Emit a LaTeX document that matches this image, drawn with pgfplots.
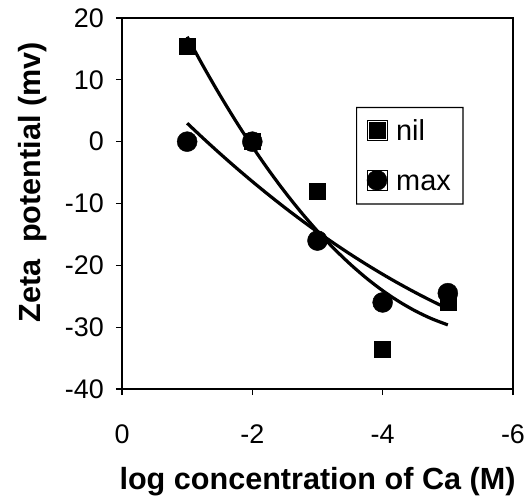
\documentclass[border=0pt]{standalone}
\usepackage{fontspec}
\setmainfont{Liberation Sans}
\usepackage{pgfplots}
\pgfplotsset{compat=1.18}
\begin{document}
\begin{tikzpicture}
\path[use as bounding box] (-122bp,-108bp) rectangle (407bp,389bp);
\begin{axis}[
  at={(0,0)}, anchor=south west,
  scale only axis, width=391bp, height=371bp,
  clip=false,
  x dir=reverse,
  xmin=-6, xmax=0, ymin=-40, ymax=20,
  xtick={0,-2,-4,-6}, ytick={-40,-30,-20,-10,0,10,20},
  xtick pos=bottom, ytick pos=left,
  tick align=outside,
  major tick length=6bp,
  axis line style={line width=1.3bp, black},
  every tick/.style={black, line width=1.2bp},
  /pgf/number format/assume math mode=true,
  tick label style={font=\fontsize{27}{27}\selectfont},
  xticklabel style={inner sep=0pt, anchor=north, yshift=-30bp},
  yticklabel style={inner sep=0pt, anchor=east, xshift=-12bp},
  xlabel={log concentration of Ca (M)},
  ylabel={Zeta\ \ potential (mv)},
  label style={font=\bfseries\fontsize{30.7}{31}\selectfont},
  xlabel style={at={(axis description cs:0.5,-0.272)}, anchor=base, inner sep=0pt},
  ylabel style={at={(axis description cs:-0.2097,0.557)}, anchor=base, inner sep=0pt},
  legend cell align=left,
  legend style={at={(axis description cs:0.600,0.759)}, anchor=north west,
    draw=none, fill=none, font=\fontsize{29}{29}\selectfont,
    inner xsep=10bp, inner ysep=10bp, row sep=26bp,
    cells={anchor=base west}, name=leg,
    /tikz/every odd column/.style={column sep=7bp}},
  legend image code/.code={\fill[black] plot[#1, mark options={fill=black, draw=black, line width=0.4pt}] coordinates {(0bp,10bp)}; \path (-10bp,0bp) rectangle (10bp,20bp);},
]
\addplot[only marks, mark=square*, mark size=8bp, black, mark options={fill=black}] coordinates {
  (-1,15.5) (-2,0) (-3,-8) (-4,-33.5) (-5,-26)
};
\addlegendentry{nil}
\addplot[only marks, mark=*, mark size=10bp, black, mark options={fill=black}] coordinates {
  (-1,0) (-2,0) (-3,-16) (-4,-26) (-5,-24.5)
};
\addlegendentry{max}
% trend lines
\addplot[black, line width=3.2bp, smooth, forget plot] coordinates {
  (-1,16.971) (-1.25,12.150) (-1.5,7.584) (-1.75,3.272) (-2,-0.786)
  (-2.25,-4.589) (-2.5,-8.138) (-2.75,-11.432) (-3,-14.471)
  (-3.25,-17.257) (-3.5,-19.788) (-3.75,-22.064) (-4,-24.086)
  (-4.25,-25.853) (-4.5,-27.366) (-4.75,-28.625) (-5,-29.629)
};
\addplot[black, line width=3.2bp, smooth, forget plot] coordinates {
  (-1,2.986) (-1.25,0.508) (-1.5,-1.889) (-1.75,-4.206) (-2,-6.443)
  (-2.25,-8.599) (-2.5,-10.675) (-2.75,-12.671) (-3,-14.586)
  (-3.25,-16.421) (-3.5,-18.175) (-3.75,-19.849) (-4,-21.443)
  (-4.25,-22.956) (-4.5,-24.389) (-4.75,-25.742) (-5,-27.014)
};
% frame as a filled ring
\fill[black, even odd rule]
  (rel axis cs:0,0) ++(-0.65bp,-0.65bp) rectangle ++(392.3bp,372.3bp)
  (rel axis cs:0,0) ++(0.65bp,0.65bp) rectangle ++(389.7bp,369.7bp);
\end{axis}
% legend border as a filled ring
\fill[black, even odd rule]
  ([shift={(-0.6bp,-0.6bp)}]leg.south west) rectangle ([shift={(0.6bp,0.6bp)}]leg.north east)
  ([shift={(0.6bp,0.6bp)}]leg.south west) rectangle ([shift={(-0.6bp,-0.6bp)}]leg.north east);
\end{tikzpicture}
\end{document}
